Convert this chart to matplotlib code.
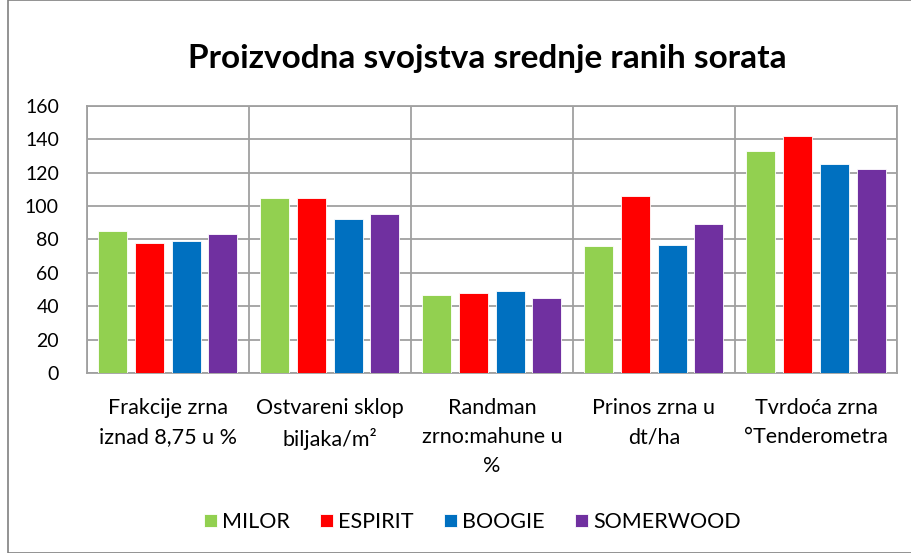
import numpy as np
import matplotlib.pyplot as plt
from matplotlib.patches import Rectangle

plt.rcParams['font.family'] = ['Lato', 'DejaVu Sans']

# Data
categories = ['Frakcije zrna\niznad 8,75 u %', 'Ostvareni sklop\nbiljaka/m²',
              'Randman\nzrno:mahune u\n%', 'Prinos zrna u\ndt/ha', 'Tvrdoća zrna\n°Tenderometra']
series = ['MILOR', 'ESPIRIT', 'BOOGIE', 'SOMERWOOD']
milor = [85, 105, 47, 76, 133]
espirit = [78, 105, 48, 106, 142]
boogie = [79, 92, 49, 77, 125]
somerwood = [83, 95, 45, 89, 122]
values = [milor, espirit, boogie, somerwood]
colors = ['#92D050', '#FF0000', '#0070C0', '#7030A0']
yticks = [0, 20, 40, 60, 80, 100, 120, 140, 160]

fig = plt.figure(figsize=(9.12, 5.53), dpi=100)
ax = fig.add_axes([86.7 / 912, 1 - 373.3 / 553, (897 - 86.7) / 912, (373.3 - 105.7) / 553])

x = np.arange(len(categories))
pitch = 0.2265
width = 0.179
for i, (name, vals, c) in enumerate(zip(series, values, colors)):
    ax.bar(x + (i - 1.5) * pitch, vals, width, color=c, label=name,
           edgecolor='white', linewidth=0.6, zorder=3)

ax.set_xlim(-0.5, len(categories) - 0.5)
ax.set_ylim(0, 160)
ax.set_yticks(yticks)
ax.set_yticklabels([str(v) for v in yticks], fontsize=14)
ax.set_xticks(x)
ax.set_xticklabels(categories, fontsize=15.5, linespacing=1.55, va='top')
ax.set_xticks(np.arange(len(categories) + 1) - 0.5, minor=True)
ax.tick_params(axis='x', which='both', length=0, pad=18)
ax.tick_params(axis='y', length=0, pad=20)
ax.grid(axis='y', color='#a0a0a0', linewidth=1.3, zorder=0)
ax.grid(axis='x', which='minor', color='#a0a0a0', linewidth=1.3, zorder=0)
ax.grid(axis='x', which='major', visible=False)
for s in ax.spines.values():
    s.set_color('#a0a0a0')
    s.set_linewidth(1.3)

fig.text(0.534, 1 - 68 / 553, 'Proizvodna svojstva srednje ranih sorata', ha='center', va='baseline',
         fontsize=24, fontweight='bold')

fig.legend(loc='center', bbox_to_anchor=(0.518, 1 - 522 / 553), ncol=4, frameon=False,
           fontsize=15.5, handlelength=0.6, handleheight=0.6, handletextpad=0.25, columnspacing=1.4)

fig.patches.append(Rectangle((8 / 912, 0), 1, 1, transform=fig.transFigure, fill=False,
                             edgecolor='#808080', linewidth=1.2))

plt.savefig('out.png', dpi=100)
